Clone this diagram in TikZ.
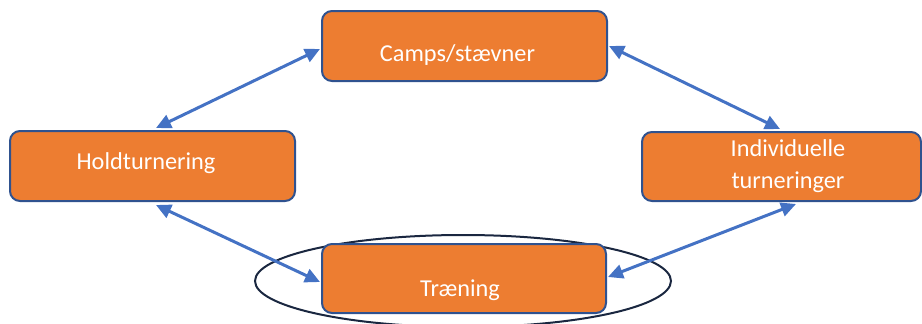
\documentclass[tikz,border=0pt]{standalone}
\usepackage{fontspec}
\setmainfont{Carlito}
\usetikzlibrary{arrows.meta,calc}
\definecolor{boxfill}{HTML}{ED7D31}
\definecolor{boxline}{HTML}{2F528F}
\definecolor{arrowblue}{HTML}{4472C4}
\definecolor{ringcol}{HTML}{1A2740}
\tikzset{
  orangebox/.style={draw=boxline, line width=2pt, fill=boxfill, rounded corners=10pt, inner sep=0pt},
  boxtext/.style={text=white, font=\fontsize{24.3}{32}\selectfont, align=center, inner sep=0pt},
  link/.style={draw=arrowblue, line width=3pt, {Triangle[length=15pt,width=14pt]}-{Triangle[length=15pt,width=14pt]}}
}
\begin{document}
\begin{tikzpicture}[x=1pt,y=-1pt]
\useasboundingbox (0,0) rectangle (922,324);
% ring around Træning
\draw[ringcol, line width=2pt] (463,281) ellipse [x radius=208, y radius=46];
% boxes
\node[orangebox, minimum width=285pt, minimum height=70pt] (camps) at (464.5,46) {};
\node[orangebox, minimum width=285pt, minimum height=70pt] (hold) at (152.5,166) {};
\node[orangebox, minimum width=279pt, minimum height=69pt] (indiv) at (781.5,166.5) {};
\node[orangebox, minimum width=284pt, minimum height=69pt] (train) at (464,278.5) {};
% texts
\node[boxtext] (tcamps) at (457.5,55) {Camps/stævner};
\node[boxtext] (thold) at (146,163) {Holdturnering};
\node[boxtext] (tindiv) at (788,166) {Individuelle\\turneringer};
\node[boxtext] (ttrain) at (460,290) {Træning};
% connector endpoints
\coordinate (a1) at ($(hold.north west)+(147,-2)$);
\coordinate (a2) at ($(camps.north west)+(-1,39)$);
\coordinate (b1) at ($(camps.north east)+(1,36)$);
\coordinate (b2) at ($(indiv.north west)+(139,-2)$);
\coordinate (c1) at ($(hold.south west)+(147,3)$);
\coordinate (c2) at ($(train.north west)+(-1,39)$);
\coordinate (d1) at ($(indiv.south west)+(155,2)$);
\coordinate (d2) at ($(train.north east)+(1,34)$);
\draw[link] (a1) -- (a2);
\draw[link] (b1) -- (b2);
\draw[link] (c1) -- (c2);
\draw[link] (d1) -- (d2);
\end{tikzpicture}
\end{document}
